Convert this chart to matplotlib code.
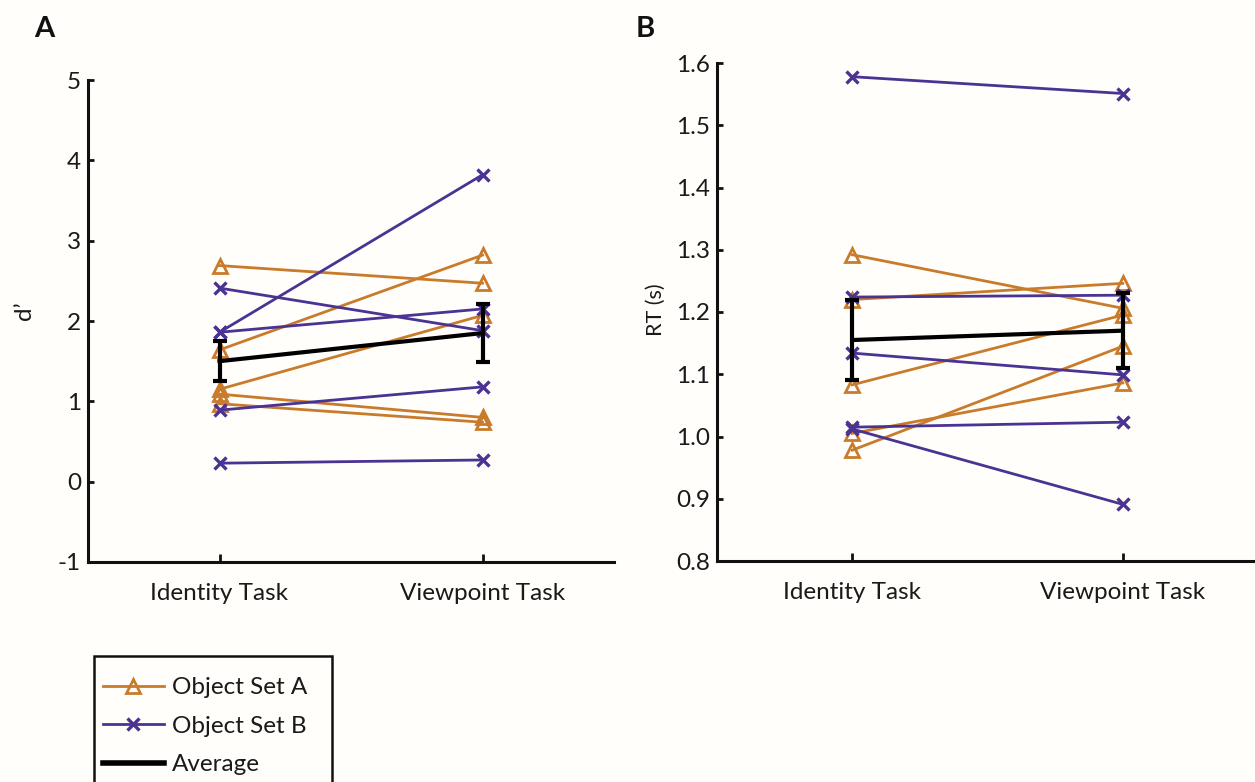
import matplotlib
matplotlib.use("Agg")
import matplotlib.pyplot as plt
from matplotlib.lines import Line2D
from matplotlib.patches import Rectangle

plt.rcParams['font.family'] = ['Lato', 'DejaVu Sans']

# ---- data -------------------------------------------------------------
tasks = ["Identity Task", "Viewpoint Task"]

# Panel A: sensitivity (d')
dprime_setA_identity = [2.69, 1.64, 1.15, 1.09, 0.97]
dprime_setA_viewpoint = [2.47, 2.82, 2.07, 0.80, 0.74]
dprime_setB_identity = [1.86, 1.86, 2.41, 0.89, 0.23]
dprime_setB_viewpoint = [3.82, 2.15, 1.88, 1.18, 0.27]
dprime_mean = [1.50, 1.85]
dprime_sem = [0.25, 0.365]

# Panel B: reaction time (s)
rt_setA_identity = [1.292, 1.220, 1.083, 1.005, 0.978]
rt_setA_viewpoint = [1.206, 1.246, 1.195, 1.086, 1.145]
rt_setB_identity = [1.578, 1.224, 1.134, 1.015, 1.012]
rt_setB_viewpoint = [1.551, 1.227, 1.099, 1.023, 0.891]
rt_mean = [1.155, 1.170]
rt_sem = [0.064, 0.060]

dprime_ticks = [-1, 0, 1, 2, 3, 4, 5]
rt_ticks = [0.8, 0.9, 1.0, 1.1, 1.2, 1.3, 1.4, 1.5, 1.6]

# ---- style ------------------------------------------------------------
ORANGE = "#C97B2C"
PURPLE = "#4B3393"
BG = "#FFFEFB"
TXT = "#1a1a1a"
W, H = 1255, 782
FS = 17.5

fig = plt.figure(figsize=(W / 100, H / 100), dpi=100, facecolor=BG)


def px_axes(left, top, right, bottom):
    return fig.add_axes([left / W, 1 - bottom / H, (right - left) / W, (bottom - top) / H])


def draw_panel(ax, a_id, a_vp, b_id, b_vp, mean, sem, ylim, yticks, ylabels):
    x = [1, 2]
    for y0, y1 in zip(a_id, a_vp):
        ax.plot(x, [y0, y1], color=ORANGE, lw=2.0, marker="^", ms=10.5,
                mfc="none", mec=ORANGE, mew=2.0, clip_on=False, zorder=3)
    for y0, y1 in zip(b_id, b_vp):
        ax.plot(x, [y0, y1], color=PURPLE, lw=2.0, marker="x", ms=8,
                mec=PURPLE, mew=2.4, clip_on=False, zorder=3)
    ax.errorbar(x, mean, yerr=sem, color="black", lw=3.0, elinewidth=3.0,
                capsize=5, capthick=3.0, zorder=4, clip_on=False)
    ax.set_xlim(0.5, 2.5)
    ax.set_ylim(*ylim)
    ax.set_xticks(x)
    ax.set_xticklabels(tasks)
    ax.set_yticks(yticks)
    ax.set_yticklabels(ylabels)
    ax.set_facecolor("none")
    for s in ("top", "right"):
        ax.spines[s].set_visible(False)
    for s in ("left", "bottom"):
        ax.spines[s].set_linewidth(2.2)
        ax.spines[s].set_color("#111111")
    ax.tick_params(axis="both", direction="in", width=2.0, color="#111111",
                   labelsize=FS, labelcolor=TXT)
    ax.tick_params(axis="y", length=4, pad=5)
    ax.tick_params(axis="x", length=6, pad=15)


axA = px_axes(88, 80, 614, 562)
draw_panel(axA, dprime_setA_identity, dprime_setA_viewpoint,
           dprime_setB_identity, dprime_setB_viewpoint,
           dprime_mean, dprime_sem, (-1, 5), dprime_ticks,
           [str(t) for t in dprime_ticks])

axB = px_axes(717, 63, 1258, 561)
draw_panel(axB, rt_setA_identity, rt_setA_viewpoint,
           rt_setB_identity, rt_setB_viewpoint,
           rt_mean, rt_sem, (0.8, 1.6), rt_ticks,
           [f"{t:.1f}" for t in rt_ticks])

# axis titles and panel letters
fig.text(24 / W, 1 - 311 / H, "d\u2019", rotation=90, fontsize=FS,
         ha="center", va="center", color=TXT)
fig.text(656 / W, 1 - 310 / H, "RT (s)", rotation=90, fontsize=15.5,
         ha="center", va="center", color=TXT)
fig.text(44 / W, 1 - 29 / H, "A", fontsize=21, fontweight="bold",
         ha="center", va="center", color="#111111")
fig.text(645 / W, 1 - 29 / H, "B", fontsize=21, fontweight="bold",
         ha="center", va="center", color="#111111")

# legend box (open at the bottom edge of the figure)
fig.patches.append(Rectangle((94 / W, -0.05), (332 - 94) / W, 1 - 656 / H + 0.05,
                             transform=fig.transFigure, facecolor=BG,
                             edgecolor="#111111", linewidth=1.8, zorder=0))

handles = [
    Line2D([], [], color=ORANGE, lw=2.0, marker="^", ms=10.5, mfc="none",
           mec=ORANGE, mew=2.0),
    Line2D([], [], color=PURPLE, lw=2.0, marker="x", ms=8, mec=PURPLE, mew=2.4),
    Line2D([], [], color="black", lw=4.0),
]
leg = fig.legend(handles, ["Object Set A", "Object Set B", "Average"],
                 loc="upper left", bbox_to_anchor=(103 / W, 1 - 677 / H),
                 bbox_transform=fig.transFigure, borderaxespad=0,
                 fontsize=FS, frameon=False, numpoints=1,
                 handlelength=2.5, handletextpad=0.35, labelspacing=0.72,
                 borderpad=0)
for t in leg.get_texts():
    t.set_color(TXT)

fig.savefig("out.png", dpi=100, facecolor=BG)
